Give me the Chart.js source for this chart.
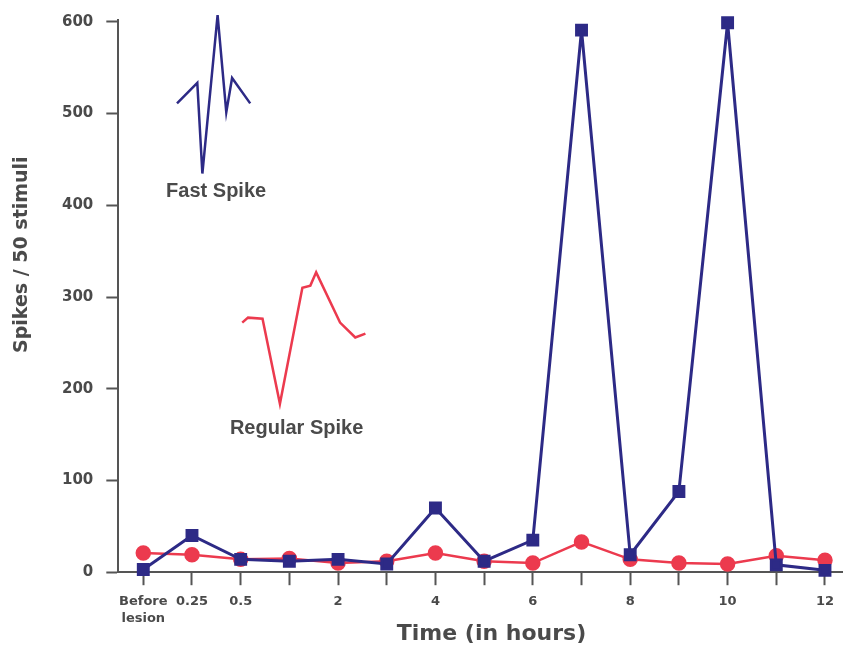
<!DOCTYPE html>
<html>
<head>
<meta charset="utf-8">
<script src="https://cdn.jsdelivr.net/npm/chart.js@4/dist/chart.umd.min.js"></script>
<style>
  html, body { margin: 0; padding: 0; background: #ffffff; }
  #wrap { width: 843px; height: 649px; position: relative; }
</style>
</head>
<body>
<div id="wrap"><canvas id="c" width="843" height="649"></canvas></div>
<script>
// ---- data ----
const timeLabels = ["Before\nlesion", "0.25", "0.5", "", "2", "", "4", "", "6", "", "8", "", "10", "", "12"];
const fastSpikeCounts = [3, 40, 14, 12, 14, 9, 70, 12, 35, 591, 19, 88, 599, 8, 2];
const regularSpikeCounts = [21, 19, 14, 15, 10, 12, 21, 12, 10, 33, 14, 10, 9, 18, 13];
const yTicks = [0, 100, 200, 300, 400, 500, 600];
const xTitle = "Time (in hours)";
const yTitle = "Spikes / 50 stimuli";

// decorative waveform insets (relative units on hidden inset axes)
const fastWaveX = [8.1, 10.9, 11.6, 13.7, 14.9, 15.7, 18.2];
const fastWaveY = [84.9, 88.6, 72.2, 100.9, 83.3, 89.5, 84.9];
const regularWaveX = [17.1, 17.9, 19.9, 22.3, 25.4, 26.5, 27.3, 30.6, 32.7, 34.1];
const regularWaveY = [45.2, 46.1, 45.9, 30.5, 51.5, 51.9, 54.3, 45.2, 42.5, 43.2];
const insetLabels = [
  { text: "Fast Spike", x: 13.5, y: 69.0 },
  { text: "Regular Spike", x: 24.6, y: 26.0 }
];

const BLUE = "#2d2a86";
const RED = "#ec3a4e";
const AXIS = "#555555";
const TEXT = "#4a4a4a";

const toXY = (arr) => arr.map((v, i) => ({ x: i, y: v }));
const zipXY = (xs, ys) => xs.map((x, i) => ({ x: x, y: ys[i] }));

const textPlugin = {
  id: 'textPlugin',
  afterDatasetsDraw(chart) {
    const ctx = chart.ctx;
    const sx = chart.scales.wx, sy = chart.scales.wy;
    const area = chart.chartArea;
    ctx.save();
    ctx.fillStyle = TEXT;
    ctx.textAlign = 'center';
    ctx.textBaseline = 'middle';
    ctx.font = 'bold 20px "Liberation Sans", Arial, sans-serif';
    insetLabels.forEach(l => ctx.fillText(l.text, sx.getPixelForValue(l.x), sy.getPixelForValue(l.y)));
    // axis titles
    ctx.font = 'bold 22px "DejaVu Sans", sans-serif';
    ctx.fillText(xTitle, sx.getPixelForValue(51.5), area.bottom + 62);
    ctx.translate(22, sy.getPixelForValue(57.5));
    ctx.rotate(-Math.PI / 2);
    ctx.font = 'bold 19px "DejaVu Sans", sans-serif';
    ctx.fillText(yTitle, 0, 0);
    ctx.restore();
  }
};

const zeroPad = (scale) => { scale.paddingLeft = 0; scale.paddingRight = 0; scale.paddingTop = 0; scale.paddingBottom = 0; };

new Chart(document.getElementById('c'), {
  type: 'line',
  data: {
    datasets: [
      {
        label: 'Regular Spike',
        data: toXY(regularSpikeCounts),
        borderColor: RED,
        backgroundColor: RED,
        borderWidth: 2.5,
        pointStyle: 'circle',
        pointRadius: 6.5,
        pointHoverRadius: 6.5,
        clip: false,
        xAxisID: 'x', yAxisID: 'y',
        order: 2
      },
      {
        label: 'Fast Spike',
        data: toXY(fastSpikeCounts),
        borderColor: BLUE,
        backgroundColor: BLUE,
        borderWidth: 3,
        pointStyle: 'rect',
        pointRadius: 7,
        pointHoverRadius: 7,
        clip: false,
        xAxisID: 'x', yAxisID: 'y',
        order: 1
      },
      {
        label: 'fastWave',
        data: zipXY(fastWaveX, fastWaveY),
        borderColor: BLUE,
        borderWidth: 2.5,
        pointRadius: 0,
        clip: false,
        xAxisID: 'wx', yAxisID: 'wy'
      },
      {
        label: 'regularWave',
        data: zipXY(regularWaveX, regularWaveY),
        borderColor: RED,
        borderWidth: 2.5,
        pointRadius: 0,
        clip: false,
        xAxisID: 'wx', yAxisID: 'wy'
      }
    ]
  },
  options: {
    responsive: false,
    animation: false,
    layout: { autoPadding: false, padding: { top: 20, right: 0, left: 49, bottom: 14 } },
    plugins: { legend: { display: false }, tooltip: { enabled: false } },
    scales: {
      x: {
        type: 'linear',
        min: -0.513,
        max: 14.37,
        afterBuildTicks: (axis) => { axis.ticks = timeLabels.map((_, i) => ({ value: i })); },
        afterFit: zeroPad,
        ticks: {
          autoSkip: false,
          maxRotation: 0,
          padding: 8,
          color: TEXT,
          font: { family: '"DejaVu Sans", sans-serif', weight: 'bold', size: 13, lineHeight: 1.3 },
          callback: (v) => { const s = timeLabels[Math.round(v)]; return s && s.includes('\n') ? s.split('\n') : s; }
        },
        grid: { drawOnChartArea: false, drawTicks: true, tickLength: 13, tickWidth: 2, tickColor: AXIS },
        border: { display: true, color: AXIS, width: 2 }
      },
      y: {
        type: 'linear',
        min: 0,
        max: 602,
        afterBuildTicks: (axis) => { axis.ticks = yTicks.map(v => ({ value: v })); },
        afterFit: zeroPad,
        ticks: {
          padding: 13,
          color: TEXT,
          font: { family: '"DejaVu Sans", sans-serif', weight: 'bold', size: 15 }
        },
        grid: { drawOnChartArea: false, drawTicks: true, tickLength: 12, tickWidth: 2, tickColor: AXIS },
        border: { display: true, color: AXIS, width: 2 }
      },
      wx: { type: 'linear', display: false, min: 0, max: 100 },
      wy: { type: 'linear', display: false, min: 0, max: 100 }
    }
  },
  plugins: [textPlugin]
});
</script>
</body>
</html>
